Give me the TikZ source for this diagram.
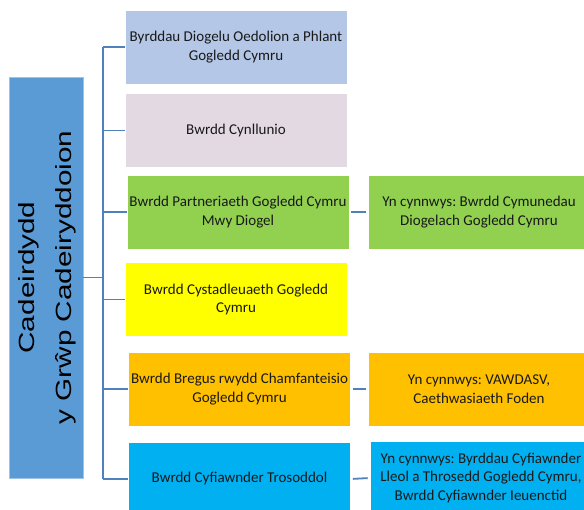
\documentclass[tikz,border=0pt]{standalone}
\usepackage{fontspec}
\setmainfont{Carlito}
\newfontfamily\chairfont[FakeStretch=1.35]{Liberation Sans}
\usepackage{graphicx}
\frenchspacing

\definecolor{chairblue}{HTML}{5B9BD5}
\definecolor{chairedge}{HTML}{9DC3E6}
\definecolor{linkblue}{HTML}{4F81BD}
\definecolor{paleblue}{HTML}{B4C7E7}
\definecolor{palemauve}{HTML}{E2D9E3}
\definecolor{boardgreen}{HTML}{92D050}
\definecolor{boardyellow}{HTML}{FFFF00}
\definecolor{boardorange}{HTML}{FFC000}
\definecolor{boardcyan}{HTML}{00B0F0}

\tikzset{
    board/.style={shape=rectangle, draw=white, line width=0.6pt,
        minimum width=222pt, minimum height=74pt, inner sep=2pt,
        align=center, text=black!90, font=\fontsize{15}{18.5}\selectfont},
    chair/.style={shape=rectangle, draw=chairedge, fill=chairblue,
        line width=0.8pt, minimum width=68pt, minimum height=401pt, inner sep=0pt},
    link/.style={draw=linkblue, line width=1.8pt},
}

\begin{document}
\begin{tikzpicture}[x=1pt,y=1pt]
    \useasboundingbox (0,0) rectangle (584,509);
    \clip (0,0) rectangle (584,509);

    % Chair
    \node[chair] (chair) at (46,231.5) {\rotatebox{90}{\chairfont\fontsize{22}{37}\selectfont
        \begin{tabular}{@{}c@{}}Cadeirdydd\\y Grŵp Cadeiryddoion\end{tabular}}};
    \coordinate (spine) at (103,231.5);

    % Boards
    \node[board, fill=paleblue] (b1) at (236,462) {Byrddau Diogelu Oedolion a Phlant\\Gogledd Cymru};
    \node[board, fill=palemauve] (b2) at (236,378.5) {Bwrdd Cynllunio};
    \node[board, fill=boardgreen] (b3) at (238,297) {Bwrdd Partneriaeth Gogledd Cymru\\Mwy Diogel};
    \node[board, fill=boardyellow] (b4) at (236,209.5) {Bwrdd Cystadleuaeth Gogledd\\Cymru};
    \node[board, fill=boardorange] (b5) at (239.5,120) {Bwrdd Bregus rwydd Chamfanteisio\\Gogledd Cymru};
    \node[board, fill=boardcyan] (b6) at (239.5,30) {Bwrdd Cyfiawnder Trosoddol};

    % Sub-boards
    \node[board, fill=boardgreen] (b3x) at (479,297) {Yn cynnwys: Bwrdd Cymunedau\\Diogelach Gogledd Cymru};
    \node[board, fill=boardorange] (b5x) at (479,120) {Yn cynnwys: VAWDASV,\\Caethwasiaeth Foden};
    \node[board, fill=boardcyan] (b6x) at (481,31) {Yn cynnwys: Byrddau Cyfiawnder\\Lleol a Throsedd Gogledd Cymru,\\Bwrdd Cyfiawnder Ieuenctid};

    % Links
    \draw[link] (b1.west -| spine) -- (b6.west -| spine);
    \draw[link] (chair.east) -- (spine);
    \draw[link] (b1.west -| spine) -- (b1.west);
    \draw[link] (b2.west -| spine) -- (b2.west);
    \draw[link] (b3.west -| spine) -- (b3.west);
    \draw[link] (b4.west -| spine) -- (b4.west);
    \draw[link] (b5.west -| spine) -- (b5.west);
    \draw[link] (b6.west -| spine) -- (b6.west);

    \draw[link, shorten <=2pt, shorten >=2pt] (b3.east) -- (b3x.west);
    \draw[link, shorten <=2pt, shorten >=2pt] (b5.east) -- (b5x.west);
    \draw[link, shorten <=2pt, shorten >=2pt] (b6.east) -- (b6x.west);
\end{tikzpicture}
\end{document}
